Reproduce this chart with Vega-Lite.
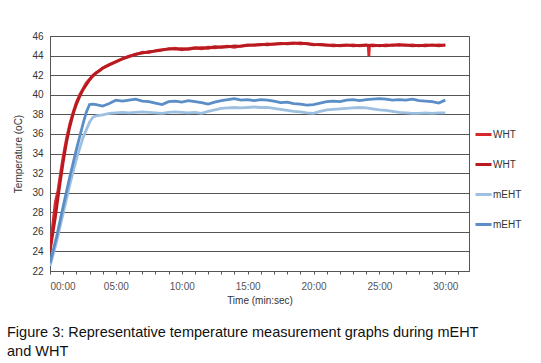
{
  "$schema": "https://vega.github.io/schema/vega-lite/v6.json",
  "width": 419,
  "height": 235,
  "autosize": {"type": "none"},
  "padding": {"left": 50, "top": 36, "right": 72, "bottom": 92},
  "background": "white",
  "config": {
    "font": "Liberation Sans",
    "view": {"stroke": "#555", "strokeWidth": 1}
  },
  "title": {
    "text": ["Figure 3:  Representative temperature measurement graphs during mEHT", "and WHT"],
    "orient": "bottom",
    "anchor": "start",
    "frame": "group",
    "dx": -43,
    "offset": 21,
    "fontSize": 14.5,
    "fontWeight": "normal",
    "lineHeight": 19,
    "color": "#111"
  },
  "data": {"values": [
    {"s":"WHT_1","t":0,"v":24.1},{"s":"WHT_1","t":0.2,"v":26.6},{"s":"WHT_1","t":0.4,"v":29.0},{"s":"WHT_1","t":0.6,"v":30.2},{"s":"WHT_1","t":0.8,"v":32.0},{"s":"WHT_1","t":1.0,"v":33.7},{"s":"WHT_1","t":1.25,"v":35.5},{"s":"WHT_1","t":1.5,"v":37.0},{"s":"WHT_1","t":1.75,"v":38.2},{"s":"WHT_1","t":2.0,"v":39.2},{"s":"WHT_1","t":2.25,"v":40.0},{"s":"WHT_1","t":2.5,"v":40.6},{"s":"WHT_1","t":2.75,"v":41.2},{"s":"WHT_1","t":3.0,"v":41.6},{"s":"WHT_1","t":3.25,"v":42.0},{"s":"WHT_1","t":3.5,"v":42.25},{"s":"WHT_1","t":3.75,"v":42.5},{"s":"WHT_1","t":4.0,"v":42.75},{"s":"WHT_1","t":4.5,"v":43.1},{"s":"WHT_1","t":5.0,"v":43.4},{"s":"WHT_1","t":5.5,"v":43.7},{"s":"WHT_1","t":6.0,"v":43.95},{"s":"WHT_1","t":6.5,"v":44.1},{"s":"WHT_1","t":7.0,"v":44.35},{"s":"WHT_1","t":7.5,"v":44.3},{"s":"WHT_1","t":8.0,"v":44.5},{"s":"WHT_1","t":8.5,"v":44.6},{"s":"WHT_1","t":9.0,"v":44.65},{"s":"WHT_1","t":9.5,"v":44.75},{"s":"WHT_1","t":10.0,"v":44.6},{"s":"WHT_1","t":10.5,"v":44.7},{"s":"WHT_1","t":11.0,"v":44.8},{"s":"WHT_1","t":11.5,"v":44.7},{"s":"WHT_1","t":12.0,"v":44.85},{"s":"WHT_1","t":12.5,"v":44.8},{"s":"WHT_1","t":13.0,"v":44.9},{"s":"WHT_1","t":13.5,"v":44.95},{"s":"WHT_1","t":14.0,"v":44.85},{"s":"WHT_1","t":14.5,"v":45.0},{"s":"WHT_1","t":15.0,"v":45.1},{"s":"WHT_1","t":15.5,"v":45.05},{"s":"WHT_1","t":16.0,"v":45.1},{"s":"WHT_1","t":16.5,"v":45.2},{"s":"WHT_1","t":17.0,"v":45.15},{"s":"WHT_1","t":17.5,"v":45.2},{"s":"WHT_1","t":18.0,"v":45.25},{"s":"WHT_1","t":18.5,"v":45.3},{"s":"WHT_1","t":19.0,"v":45.2},{"s":"WHT_1","t":19.5,"v":45.25},{"s":"WHT_1","t":20.0,"v":45.15},{"s":"WHT_1","t":20.5,"v":45.1},{"s":"WHT_1","t":21.0,"v":45.05},{"s":"WHT_1","t":21.5,"v":45.1},{"s":"WHT_1","t":22.0,"v":45.0},{"s":"WHT_1","t":22.5,"v":45.05},{"s":"WHT_1","t":23.0,"v":45.1},{"s":"WHT_1","t":23.5,"v":45.0},{"s":"WHT_1","t":24.0,"v":45.05},{"s":"WHT_1","t":24.15,"v":45.05},{"s":"WHT_1","t":24.2,"v":43.95},{"s":"WHT_1","t":24.25,"v":45.05},{"s":"WHT_1","t":24.5,"v":45.1},{"s":"WHT_1","t":25.0,"v":45.0},{"s":"WHT_1","t":25.5,"v":45.1},{"s":"WHT_1","t":26.0,"v":45.05},{"s":"WHT_1","t":26.5,"v":45.15},{"s":"WHT_1","t":27.0,"v":45.05},{"s":"WHT_1","t":27.5,"v":45.1},{"s":"WHT_1","t":28.0,"v":45.0},{"s":"WHT_1","t":28.5,"v":45.1},{"s":"WHT_1","t":29.0,"v":45.05},{"s":"WHT_1","t":29.5,"v":45.1},{"s":"WHT_1","t":30.0,"v":45.05},
    {"s":"WHT_2","t":0,"v":24.0},{"s":"WHT_2","t":0.2,"v":25.7},{"s":"WHT_2","t":0.4,"v":27.4},{"s":"WHT_2","t":0.6,"v":29.4},{"s":"WHT_2","t":0.8,"v":31.3},{"s":"WHT_2","t":1.0,"v":33.1},{"s":"WHT_2","t":1.25,"v":35.1},{"s":"WHT_2","t":1.5,"v":36.7},{"s":"WHT_2","t":1.75,"v":38.0},{"s":"WHT_2","t":2.0,"v":39.0},{"s":"WHT_2","t":2.25,"v":39.8},{"s":"WHT_2","t":2.5,"v":40.5},{"s":"WHT_2","t":2.75,"v":41.0},{"s":"WHT_2","t":3.0,"v":41.5},{"s":"WHT_2","t":3.25,"v":41.9},{"s":"WHT_2","t":3.5,"v":42.2},{"s":"WHT_2","t":3.75,"v":42.45},{"s":"WHT_2","t":4.0,"v":42.7},{"s":"WHT_2","t":4.5,"v":43.05},{"s":"WHT_2","t":5.0,"v":43.35},{"s":"WHT_2","t":5.5,"v":43.65},{"s":"WHT_2","t":6.0,"v":43.9},{"s":"WHT_2","t":6.5,"v":44.15},{"s":"WHT_2","t":7.0,"v":44.25},{"s":"WHT_2","t":7.5,"v":44.4},{"s":"WHT_2","t":8.0,"v":44.45},{"s":"WHT_2","t":8.5,"v":44.55},{"s":"WHT_2","t":9.0,"v":44.7},{"s":"WHT_2","t":9.5,"v":44.65},{"s":"WHT_2","t":10.0,"v":44.7},{"s":"WHT_2","t":10.5,"v":44.65},{"s":"WHT_2","t":11.0,"v":44.75},{"s":"WHT_2","t":11.5,"v":44.8},{"s":"WHT_2","t":12.0,"v":44.75},{"s":"WHT_2","t":12.5,"v":44.9},{"s":"WHT_2","t":13.0,"v":44.85},{"s":"WHT_2","t":13.5,"v":44.9},{"s":"WHT_2","t":14.0,"v":45.0},{"s":"WHT_2","t":14.5,"v":44.95},{"s":"WHT_2","t":15.0,"v":45.05},{"s":"WHT_2","t":15.5,"v":45.1},{"s":"WHT_2","t":16.0,"v":45.15},{"s":"WHT_2","t":16.5,"v":45.1},{"s":"WHT_2","t":17.0,"v":45.2},{"s":"WHT_2","t":17.5,"v":45.25},{"s":"WHT_2","t":18.0,"v":45.2},{"s":"WHT_2","t":18.5,"v":45.25},{"s":"WHT_2","t":19.0,"v":45.3},{"s":"WHT_2","t":19.5,"v":45.2},{"s":"WHT_2","t":20.0,"v":45.1},{"s":"WHT_2","t":20.5,"v":45.15},{"s":"WHT_2","t":21.0,"v":45.1},{"s":"WHT_2","t":21.5,"v":45.0},{"s":"WHT_2","t":22.0,"v":45.05},{"s":"WHT_2","t":22.5,"v":45.1},{"s":"WHT_2","t":23.0,"v":45.0},{"s":"WHT_2","t":23.5,"v":45.05},{"s":"WHT_2","t":24.0,"v":45.1},{"s":"WHT_2","t":24.5,"v":45.0},{"s":"WHT_2","t":25.0,"v":45.05},{"s":"WHT_2","t":25.5,"v":45.0},{"s":"WHT_2","t":26.0,"v":45.1},{"s":"WHT_2","t":26.5,"v":45.05},{"s":"WHT_2","t":27.0,"v":45.1},{"s":"WHT_2","t":27.5,"v":45.0},{"s":"WHT_2","t":28.0,"v":45.05},{"s":"WHT_2","t":28.5,"v":45.0},{"s":"WHT_2","t":29.0,"v":45.1},{"s":"WHT_2","t":29.5,"v":45.0},{"s":"WHT_2","t":30.0,"v":45.1},
    {"s":"mEHT_1","t":0,"v":22.5},{"s":"mEHT_1","t":0.5,"v":25.0},{"s":"mEHT_1","t":1.0,"v":27.9},{"s":"mEHT_1","t":1.5,"v":30.8},{"s":"mEHT_1","t":2.0,"v":33.4},{"s":"mEHT_1","t":2.5,"v":35.6},{"s":"mEHT_1","t":3.0,"v":37.2},{"s":"mEHT_1","t":3.25,"v":37.7},{"s":"mEHT_1","t":3.5,"v":37.85},{"s":"mEHT_1","t":4.0,"v":37.95},{"s":"mEHT_1","t":4.5,"v":38.1},{"s":"mEHT_1","t":5.0,"v":38.15},{"s":"mEHT_1","t":5.5,"v":38.2},{"s":"mEHT_1","t":6.0,"v":38.15},{"s":"mEHT_1","t":6.5,"v":38.2},{"s":"mEHT_1","t":7.0,"v":38.25},{"s":"mEHT_1","t":7.5,"v":38.2},{"s":"mEHT_1","t":8.0,"v":38.15},{"s":"mEHT_1","t":8.5,"v":38.1},{"s":"mEHT_1","t":9.0,"v":38.2},{"s":"mEHT_1","t":9.5,"v":38.25},{"s":"mEHT_1","t":10.0,"v":38.2},{"s":"mEHT_1","t":10.5,"v":38.15},{"s":"mEHT_1","t":11.0,"v":38.2},{"s":"mEHT_1","t":11.5,"v":38.1},{"s":"mEHT_1","t":12.0,"v":38.3},{"s":"mEHT_1","t":12.5,"v":38.45},{"s":"mEHT_1","t":13.0,"v":38.6},{"s":"mEHT_1","t":13.5,"v":38.65},{"s":"mEHT_1","t":14.0,"v":38.7},{"s":"mEHT_1","t":14.5,"v":38.65},{"s":"mEHT_1","t":15.0,"v":38.7},{"s":"mEHT_1","t":15.5,"v":38.75},{"s":"mEHT_1","t":16.0,"v":38.7},{"s":"mEHT_1","t":16.5,"v":38.7},{"s":"mEHT_1","t":17.0,"v":38.6},{"s":"mEHT_1","t":17.5,"v":38.5},{"s":"mEHT_1","t":18.0,"v":38.4},{"s":"mEHT_1","t":18.5,"v":38.3},{"s":"mEHT_1","t":19.0,"v":38.25},{"s":"mEHT_1","t":19.5,"v":38.15},{"s":"mEHT_1","t":20.0,"v":38.1},{"s":"mEHT_1","t":20.5,"v":38.3},{"s":"mEHT_1","t":21.0,"v":38.45},{"s":"mEHT_1","t":21.5,"v":38.5},{"s":"mEHT_1","t":22.0,"v":38.55},{"s":"mEHT_1","t":22.5,"v":38.6},{"s":"mEHT_1","t":23.0,"v":38.65},{"s":"mEHT_1","t":23.5,"v":38.7},{"s":"mEHT_1","t":24.0,"v":38.65},{"s":"mEHT_1","t":24.5,"v":38.55},{"s":"mEHT_1","t":25.0,"v":38.45},{"s":"mEHT_1","t":25.5,"v":38.4},{"s":"mEHT_1","t":26.0,"v":38.3},{"s":"mEHT_1","t":26.5,"v":38.2},{"s":"mEHT_1","t":27.0,"v":38.15},{"s":"mEHT_1","t":27.5,"v":38.1},{"s":"mEHT_1","t":28.0,"v":38.1},{"s":"mEHT_1","t":28.5,"v":38.15},{"s":"mEHT_1","t":29.0,"v":38.1},{"s":"mEHT_1","t":29.5,"v":38.15},{"s":"mEHT_1","t":30.0,"v":38.15},
    {"s":"mEHT_2","t":0,"v":22.8},{"s":"mEHT_2","t":0.5,"v":25.5},{"s":"mEHT_2","t":1.0,"v":28.6},{"s":"mEHT_2","t":1.5,"v":31.6},{"s":"mEHT_2","t":2.0,"v":34.4},{"s":"mEHT_2","t":2.5,"v":37.0},{"s":"mEHT_2","t":2.75,"v":38.2},{"s":"mEHT_2","t":3.0,"v":39.0},{"s":"mEHT_2","t":3.25,"v":39.05},{"s":"mEHT_2","t":3.5,"v":39.0},{"s":"mEHT_2","t":4.0,"v":38.85},{"s":"mEHT_2","t":4.5,"v":39.1},{"s":"mEHT_2","t":5.0,"v":39.45},{"s":"mEHT_2","t":5.5,"v":39.35},{"s":"mEHT_2","t":6.0,"v":39.45},{"s":"mEHT_2","t":6.5,"v":39.55},{"s":"mEHT_2","t":7.0,"v":39.35},{"s":"mEHT_2","t":7.5,"v":39.3},{"s":"mEHT_2","t":8.0,"v":39.15},{"s":"mEHT_2","t":8.5,"v":39.0},{"s":"mEHT_2","t":9.0,"v":39.3},{"s":"mEHT_2","t":9.5,"v":39.35},{"s":"mEHT_2","t":10.0,"v":39.25},{"s":"mEHT_2","t":10.5,"v":39.4},{"s":"mEHT_2","t":11.0,"v":39.3},{"s":"mEHT_2","t":11.5,"v":39.2},{"s":"mEHT_2","t":12.0,"v":39.05},{"s":"mEHT_2","t":12.5,"v":39.25},{"s":"mEHT_2","t":13.0,"v":39.4},{"s":"mEHT_2","t":13.5,"v":39.5},{"s":"mEHT_2","t":14.0,"v":39.6},{"s":"mEHT_2","t":14.5,"v":39.45},{"s":"mEHT_2","t":15.0,"v":39.5},{"s":"mEHT_2","t":15.5,"v":39.4},{"s":"mEHT_2","t":16.0,"v":39.5},{"s":"mEHT_2","t":16.5,"v":39.45},{"s":"mEHT_2","t":17.0,"v":39.35},{"s":"mEHT_2","t":17.5,"v":39.2},{"s":"mEHT_2","t":18.0,"v":39.25},{"s":"mEHT_2","t":18.5,"v":39.1},{"s":"mEHT_2","t":19.0,"v":39.05},{"s":"mEHT_2","t":19.5,"v":38.95},{"s":"mEHT_2","t":20.0,"v":39.0},{"s":"mEHT_2","t":20.5,"v":39.15},{"s":"mEHT_2","t":21.0,"v":39.3},{"s":"mEHT_2","t":21.5,"v":39.35},{"s":"mEHT_2","t":22.0,"v":39.3},{"s":"mEHT_2","t":22.5,"v":39.45},{"s":"mEHT_2","t":23.0,"v":39.5},{"s":"mEHT_2","t":23.5,"v":39.4},{"s":"mEHT_2","t":24.0,"v":39.5},{"s":"mEHT_2","t":24.5,"v":39.55},{"s":"mEHT_2","t":25.0,"v":39.6},{"s":"mEHT_2","t":25.5,"v":39.55},{"s":"mEHT_2","t":26.0,"v":39.45},{"s":"mEHT_2","t":26.5,"v":39.5},{"s":"mEHT_2","t":27.0,"v":39.45},{"s":"mEHT_2","t":27.5,"v":39.55},{"s":"mEHT_2","t":28.0,"v":39.4},{"s":"mEHT_2","t":28.5,"v":39.35},{"s":"mEHT_2","t":29.0,"v":39.3},{"s":"mEHT_2","t":29.5,"v":39.15},{"s":"mEHT_2","t":30.0,"v":39.45}
  ]},
  "mark": {"type": "line", "strokeWidth": 2.8, "clip": true},
  "encoding": {
    "x": {
      "field": "t", "type": "quantitative",
      "scale": {"domain": [0, 31.8], "nice": false, "zero": false},
      "axis": {
        "title": "Time (min:sec)",
        "titleFontSize": 10, "titleFontWeight": "normal", "titleColor": "#333", "titlePadding": 4,
        "values": [0,1,2,3,4,5,6,7,8,9,10,11,12,13,14,15,16,17,18,19,20,21,22,23,24,25,26,27,28,29,30,31],
        "labelExpr": "datum.value % 5 == 0 ? ((datum.value < 10 ? '0' : '') + datum.value + ':00') : ''",
        "labelFontSize": 10, "labelColor": "#555", "labelPadding": 7,
        "grid": false, "domainColor": "#555", "tickColor": "#555", "tickSize": 3
      }
    },
    "y": {
      "field": "v", "type": "quantitative",
      "scale": {"domain": [22, 46], "nice": false, "zero": false},
      "axis": {
        "title": "Temperature (oC)",
        "titleFontSize": 10, "titleFontWeight": "normal", "titleColor": "#333", "titlePadding": 8,
        "values": [22,24,26,28,30,32,34,36,38,40,42,44,46],
        "labelFontSize": 10, "labelColor": "#333", "labelPadding": 7,
        "grid": true, "gridColor": "#555", "gridWidth": 1,
        "ticks": false, "domainColor": "#555"
      }
    },
    "color": {
      "field": "s", "type": "nominal",
      "scale": {"domain": ["WHT_1", "WHT_2", "mEHT_1", "mEHT_2"], "range": ["#d7262c", "#b81a20", "#9dbfe0", "#5b8ec6"]},
      "legend": {
        "title": null,
        "orient": "none",
        "legendX": 424,
        "legendY": 89,
        "symbolType": "stroke",
        "symbolSize": 256,
        "symbolStrokeWidth": 3,
        "labelExpr": "substring(datum.label, 0, indexof(datum.label, '_'))",
        "labelFontSize": 10,
        "labelColor": "#333",
        "labelOffset": 0,
        "rowPadding": 14
      }
    },
    "order": {"field": "t", "type": "quantitative"}
  }
}
